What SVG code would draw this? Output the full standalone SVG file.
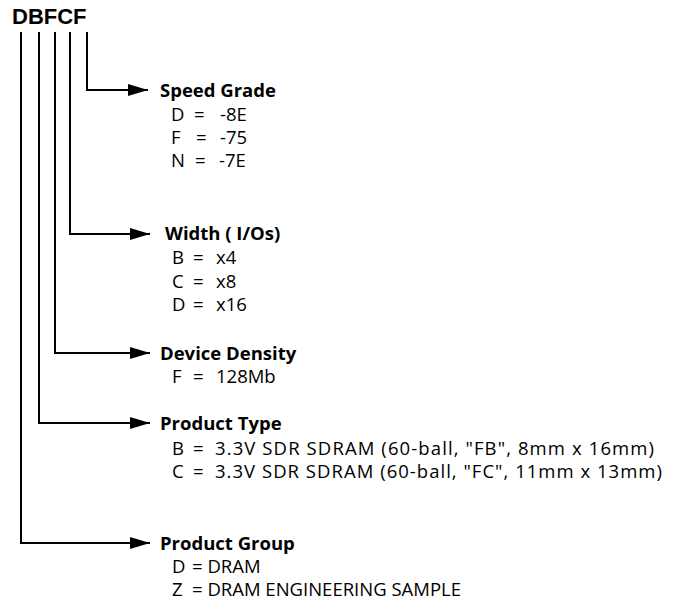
<svg xmlns="http://www.w3.org/2000/svg" width="676" height="604" viewBox="0 0 676 604">
<defs>
<marker id="arr" markerWidth="20" markerHeight="12" refX="20" refY="6" orient="auto" markerUnits="userSpaceOnUse">
<path d="M0,0 L20,6 L0,12 Z" fill="#000"/>
</marker>
<style>
.t{font-family:"Open Sans","Liberation Sans",Arial,sans-serif;font-size:18.5px;fill:#000}
.h{font-weight:bold}
.c{fill:none;stroke:#000;stroke-width:2}
</style>
</defs>
<rect width="676" height="604" fill="#fff"/>
<text id="title" x="12" y="24" class="t h" style="font-family:'Liberation Sans',Arial,sans-serif;font-size:22px">DBFCF</text>
<g id="connectors">
<path class="c" d="M87,32 V90 H148" marker-end="url(#arr)"/>
<path class="c" d="M70,32 V234 H150" marker-end="url(#arr)"/>
<path class="c" d="M55,32 V353 H150" marker-end="url(#arr)"/>
<path class="c" d="M39,32 V423 H150" marker-end="url(#arr)"/>
<path class="c" d="M21,32 V543 H150" marker-end="url(#arr)"/>
</g>
<g id="speed">
<text class="t h" x="160" y="97">Speed Grade</text>
<text class="t" y="121"><tspan x="171">D</tspan><tspan x="194">=</tspan><tspan x="220">-8E</tspan></text>
<text class="t" y="144"><tspan x="171">F</tspan><tspan x="196">=</tspan><tspan x="220">-75</tspan></text>
<text class="t" y="167"><tspan x="171">N</tspan><tspan x="195">=</tspan><tspan x="219">-7E</tspan></text>
</g>
<g id="width">
<text class="t h" x="165" y="240">Width ( I/Os)</text>
<text class="t" y="264"><tspan x="172">B</tspan><tspan x="193">=</tspan><tspan x="216">x4</tspan></text>
<text class="t" y="288"><tspan x="172">C</tspan><tspan x="193">=</tspan><tspan x="216">x8</tspan></text>
<text class="t" y="311"><tspan x="172">D</tspan><tspan x="193">=</tspan><tspan x="216">x16</tspan></text>
</g>
<g id="density">
<text class="t h" x="160" y="360">Device Density</text>
<text class="t" y="383"><tspan x="172">F</tspan><tspan x="193">=</tspan><tspan x="216">128Mb</tspan></text>
</g>
<g id="type">
<text class="t h" x="160" y="430">Product Type</text>
<text class="t" y="455"><tspan x="172">B</tspan><tspan x="193">=</tspan><tspan x="215" textLength="439" lengthAdjust="spacing">3.3V SDR SDRAM (60-ball, "FB", 8mm x 16mm)</tspan></text>
<text class="t" y="478"><tspan x="172">C</tspan><tspan x="193">=</tspan><tspan x="215" textLength="447" lengthAdjust="spacing">3.3V SDR SDRAM (60-ball, "FC", 11mm x 13mm)</tspan></text>
</g>
<g id="group">
<text class="t h" x="160" y="550">Product Group</text>
<text class="t" y="573"><tspan x="172">D</tspan><tspan x="192">= DRAM</tspan></text>
<text class="t" y="596"><tspan x="172">Z</tspan><tspan x="192">= DRAM ENGINEERING SAMPLE</tspan></text>
</g>
</svg>
